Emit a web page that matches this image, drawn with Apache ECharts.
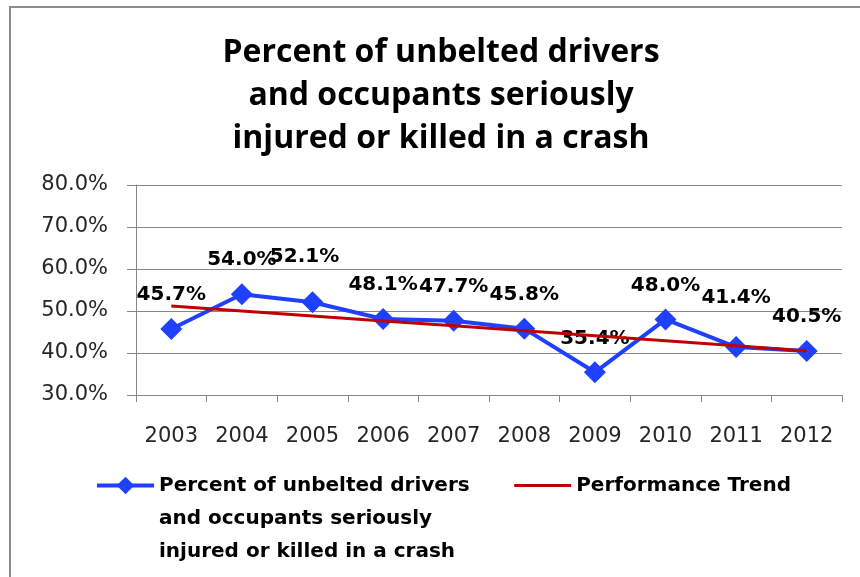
<!DOCTYPE html>
<html><head><meta charset="utf-8">
<script src="https://cdn.jsdelivr.net/npm/echarts@6/dist/echarts.min.js"></script>
<style>html,body{margin:0;padding:0;background:#fff}#c{width:860px;height:577px}</style>
</head><body><div id="c"></div>
<script>
const titleText = 'Percent of unbelted drivers\nand occupants seriously\ninjured or killed in a crash';
const categories = ['2003','2004','2005','2006','2007','2008','2009','2010','2011','2012'];
const seriesName = 'Percent of unbelted drivers\nand occupants seriously\ninjured or killed in a crash';
const percentValues = [45.7, 54.0, 52.1, 48.1, 47.7, 45.8, 35.4, 48.0, 41.4, 40.5];
const trendName = 'Performance Trend';
const trendValues = [51.2, 50.0, 48.8, 47.6, 46.5, 45.3, 44.1, 42.9, 41.7, 40.5];
const yTicks = {min: 30, max: 80, interval: 10};

// label placement tweaks (style only): [dx, dy] per category index
const labelShift = {2: [-8, -11], 8: [0, -15]};

const chart = echarts.init(document.getElementById('c'));
chart.setOption({
  animation: false,
  backgroundColor: '#fff',
  graphic: [{type:'rect', shape:{x:10, y:7, width:860, height:600}, style:{fill:'none', stroke:'#8c8c8c', lineWidth:2}, silent:true}],
  title: {
    text: titleText, left: 441, top: 31, padding: 0, textAlign: 'center',
    textStyle: {fontFamily: 'Open Sans', fontWeight: 'bold', fontSize: 32, lineHeight: 43, color: '#000'}
  },
  grid: {left: 136, right: 18, top: 185, bottom: 182},
  xAxis: {
    type: 'category', data: categories, boundaryGap: true,
    axisLine: {lineStyle: {color: '#868686', width: 1}},
    axisTick: {show: true, length: 7, alignWithLabel: false, lineStyle: {color: '#868686'}},
    axisLabel: {margin: 31, fontFamily: 'DejaVu Sans', fontSize: 21, color: '#262626'}
  },
  yAxis: {
    type: 'value', min: yTicks.min, max: yTicks.max, interval: yTicks.interval,
    axisLine: {show: true, lineStyle: {color: '#868686', width: 1}},
    axisTick: {show: true, length: 9, inside: false, lineStyle: {color: '#868686'}},
    splitLine: {lineStyle: {color: '#868686', width: 1}},
    axisLabel: {margin: 28, fontFamily: 'DejaVu Sans', fontSize: 21, color: '#262626',
      formatter: v => v.toFixed(1) + '%'}
  },
  legend: {
    left: 95, top: 403, padding: 0, itemGap: 43, itemWidth: 57, itemHeight: 22,
    textStyle: {fontFamily: 'DejaVu Sans', fontWeight: 'bold', fontSize: 20, lineHeight: 33, color: '#000'},
    formatter: name => name === seriesName ? '\n\n' + name : name,
    data: [
      {name: seriesName, lineStyle: {width: 4}},
      {name: trendName, itemStyle: {opacity: 0}, lineStyle: {width: 3}}
    ]
  },
  series: [
    {
      name: seriesName, type: 'line', z: 2,
      data: percentValues.map((v, i) => labelShift[i]
        ? {value: v, label: {offset: labelShift[i]}} : v),
      symbol: 'diamond', symbolSize: 22,
      lineStyle: {color: '#2040FF', width: 4},
      itemStyle: {color: '#2040FF'},
      label: {show: true, position: 'top', distance: 13, fontFamily: 'DejaVu Sans', fontWeight: 'bold',
        fontSize: 20, color: '#000', formatter: p => p.value.toFixed(1) + '%'}
    },
    {
      name: trendName, type: 'line', data: trendValues, z: 3,
      symbol: 'none', lineStyle: {color: '#C00000', width: 3}, itemStyle: {color: '#C00000'}
    }
  ]
});
</script></body></html>
